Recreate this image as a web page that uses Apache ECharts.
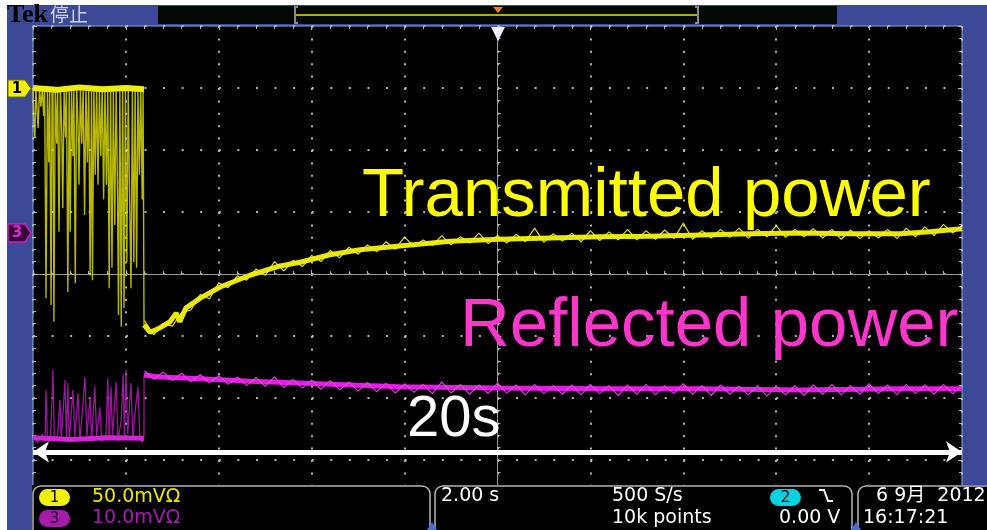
<!DOCTYPE html>
<html>
<head>
<meta charset="utf-8">
<script src="https://cdn.jsdelivr.net/npm/echarts@6/dist/echarts.min.js"></script>
<style>
  html, body { margin: 0; padding: 0; background: #fff; }
  #scope { width: 987px; height: 530px; }
</style>
</head>
<body>
<div id="scope"></div>
<script>
// time in seconds relative to trigger (2 s/div), amplitude in divisions
// CH1 (transmitted) while the RF is still pulsing: [t, div]
const yellowPre = [[-10.00,3.00],[-9.98,2.40],[-9.96,2.19],[-9.94,3.02],[-9.91,2.60],[-9.89,2.35],[-9.86,3.00],[-9.83,2.70],
  [-9.80,2.98],[-9.77,2.55],[-9.75,3.03],[-9.72,-0.39],[-9.69,2.99],[-9.66,1.80],[-9.64,3.00],[-9.61,-0.50],
  [-9.59,2.95],[-9.57,3.02],[-9.55,-0.77],[-9.52,3.00],[-9.49,2.10],[-9.47,2.98],[-9.44,0.68],[-9.41,3.01],
  [-9.38,2.30],[-9.36,1.06],[-9.33,2.97],[-9.30,2.20],[-9.28,3.00],[-9.25,-0.29],[-9.22,3.02],[-9.20,0.68],
  [-9.17,2.98],[-9.14,1.90],[-9.12,3.00],[-9.09,-0.15],[-9.06,3.03],[-9.03,2.40],[-9.01,1.44],[-8.98,2.97],
  [-8.95,2.10],[-8.92,3.00],[-8.89,0.95],[-8.86,3.01],[-8.83,1.80],[-8.80,3.00],[-8.77,-0.02],[-8.74,2.98],
  [-8.72,-0.10],[-8.69,3.02],[-8.66,1.60],[-8.63,3.00],[-8.60,1.44],[-8.57,2.99],[-8.54,1.90],[-8.51,3.02],
  [-8.48,1.20],[-8.45,3.00],[-8.42,1.44],[-8.39,2.98],[-8.36,-0.23],[-8.33,3.01],[-8.30,0.10],[-8.27,2.97],
  [-8.24,0.79],[-8.21,3.02],[-8.18,1.30],[-8.16,-0.66],[-8.13,2.99],[-8.10,-0.85],[-8.07,3.01],[-8.04,-0.55],
  [-8.01,2.97],[-7.98,0.19],[-7.95,3.02],[-7.92,1.20],[-7.89,-0.23],[-7.86,2.98],[-7.83,0.19],[-7.80,3.01],
  [-7.77,0.10],[-7.74,2.99],[-7.71,1.60],[-7.68,3.00],[-7.65,1.20],[-7.63,3.00],[-7.61,3.00],[-7.61,-0.82]]
const yellowPreTop = [[-10.00,3.00],[-9.50,2.97],[-9.00,3.01],[-8.50,2.98],[-8.00,3.00],[-7.61,2.98]]

const yellowMeanT = [-7.61,-7.48,-7.27,-7.05,-6.92,-6.84,-6.71,-6.40,-5.97,-5.33,-4.68,-4.25,-3.61,-2.96,-2.10,-1.02,0.05,1.13,2.21,3.28,4.36,5.44,6.51,7.59,8.67,9.31,10.0]
const yellowMeanV = [-0.82,-0.94,-0.87,-0.77,-0.63,-0.77,-0.55,-0.39,-0.21,-0.02,0.13,0.19,0.31,0.39,0.45,0.53,0.56,0.58,0.60,0.61,0.63,0.65,0.66,0.65,0.65,0.68,0.73]

// CH3 (reflected) while pulsing: [t, div]
const magentaPre = [[-10.00,-2.62],[-9.90,-2.72],[-9.80,-2.58],[-9.74,-2.70],[-9.72,-1.87],[-9.69,-2.66],[-9.62,-2.60],
  [-9.57,-1.55],[-9.54,-2.70],[-9.47,-2.60],[-9.42,-2.03],[-9.39,-2.68],[-9.31,-1.71],[-9.28,-2.66],[-9.25,-1.76],
  [-9.22,-2.70],[-9.14,-1.87],[-9.10,-2.62],[-9.03,-1.92],[-8.99,-2.70],[-8.88,-1.66],[-8.84,-2.62],[-8.77,-1.98],
  [-8.74,-2.71],[-8.67,-1.82],[-8.63,-2.60],[-8.56,-2.15],[-8.52,-2.70],[-8.43,-2.60],[-8.39,-1.68],[-8.36,-2.68],
  [-8.32,-1.82],[-8.29,-2.62],[-8.21,-1.74],[-8.17,-2.70],[-8.10,-2.35],[-8.06,-1.63],[-8.03,-2.66],[-8.00,-1.55],
  [-7.96,-2.58],[-7.92,-2.10],[-7.89,-1.76],[-7.85,-2.68],[-7.80,-2.20],[-7.74,-1.82],[-7.70,-2.62],[-7.65,-2.72],
  [-7.61,-2.62],[-7.61,-1.63]]
const magentaPreBase = [[-10.00,-2.64],[-9.20,-2.67],[-8.40,-2.64],[-7.61,-2.65]]

const magentaMeanT = [-7.61,-7.27,-6.40,-5.33,-4.25,-3.18,-2.10,0.05,2.21,4.36,6.51,8.67,10.0]
const magentaMeanV = [-1.63,-1.66,-1.69,-1.73,-1.76,-1.79,-1.82,-1.84,-1.85,-1.85,-1.87,-1.85,-1.85]

const noiseT = [-7.6,-7.4,-7.2,-7.0,-6.8,-6.6,-6.4,-6.2,-6.0,-5.8,-5.6,-5.4,-5.2,-5.0,-4.8,-4.6,-4.4,-4.2,-4.0,-3.8,-3.6,-3.4,-3.2,-3.0,-2.8,-2.6,-2.4,-2.2,-2.0,-1.8,-1.6,-1.4,-1.2,-1.0,-0.8,-0.6,-0.4,-0.2,0.0,0.2,0.4,0.6,0.8,1.0,1.2,1.4,1.6,1.8,2.0,2.2,2.4,2.6,2.8,3.0,3.2,3.4,3.6,3.8,4.0,4.2,4.4,4.6,4.8,5.0,5.2,5.4,5.6,5.8,6.0,6.2,6.4,6.6,6.8,7.0,7.2,7.4,7.6,7.8,8.0,8.2,8.4,8.6,8.8,9.0,9.2,9.4,9.6,9.8,10.0]
const yellowNoise = [-0.75,-0.98,-0.80,-0.84,-0.62,-0.58,-0.33,-0.40,-0.14,-0.22,
  -0.03,-0.10,0.08,-0.02,0.20,0.05,0.22,0.12,0.30,0.20,
  0.38,0.26,0.43,0.32,0.47,0.36,0.52,0.40,0.60,0.44,
  0.55,0.46,0.62,0.47,0.60,0.50,0.66,0.49,0.62,0.50,
  0.64,0.52,0.74,0.51,0.65,0.53,0.66,0.52,0.70,0.54,
  0.68,0.55,0.72,0.55,0.70,0.56,0.71,0.57,0.82,0.56,
  0.70,0.58,0.72,0.59,0.74,0.58,0.72,0.60,0.78,0.59,
  0.72,0.60,0.73,0.58,0.72,0.56,0.71,0.57,0.70,0.58,
  0.72,0.57,0.74,0.60,0.76,0.62,0.80,0.66,0.78]
const magentaNoise = [-1.56,-1.70,-1.58,-1.72,-1.60,-1.74,-1.62,-1.76,-1.64,-1.78,
  -1.66,-1.80,-1.67,-1.81,-1.66,-1.83,-1.70,-1.84,-1.71,-1.86,
  -1.72,-1.87,-1.74,-1.89,-1.75,-1.90,-1.76,-1.92,-1.77,-1.91,
  -1.78,-1.93,-1.74,-1.92,-1.78,-1.94,-1.79,-1.93,-1.76,-1.92,
  -1.79,-1.95,-1.78,-1.93,-1.80,-1.94,-1.79,-1.95,-1.78,-1.93,
  -1.80,-1.96,-1.79,-1.94,-1.78,-1.95,-1.80,-1.93,-1.77,-1.94,
  -1.80,-1.96,-1.79,-1.94,-1.81,-1.95,-1.80,-1.97,-1.81,-1.95,
  -1.80,-1.96,-1.79,-1.94,-1.78,-1.95,-1.80,-1.94,-1.77,-1.93,
  -1.79,-1.95,-1.78,-1.93,-1.79,-1.94,-1.78,-1.93,-1.80]

// span arrow (whole record length) in divisions
const spanArrowY = -2.87

function pairs(ts, vs) {
  return ts.map((t, i) => [t, vs[i]])
}

const BLUE = '#3c4a96'
const DOT = '#b4b4b4'
const CROSS = '#9c9a8c'
const sans = 'Liberation Sans, Arial, sans-serif'
const ui = 'DejaVu Sans, sans-serif'

function lineSeries(data, color, width, opacity, z) {
  return {
    type: 'line',
    data: data,
    showSymbol: false,
    symbol: 'none',
    silent: true,
    animation: false,
    z: z,
    lineStyle: { color: color, width: width, opacity: opacity },
  }
}

const chart = echarts.init(document.getElementById('scope'))

const edgeAxis = (pos, interval, max) => ({
  type: 'value', position: pos, min: -max, max: max, interval: interval,
  axisLine: { show: false, onZero: false },
  axisTick: { show: true, inside: true, length: 4, lineStyle: { color: DOT } },
  minorTick: { show: true, splitNumber: 5, length: 3, lineStyle: { color: DOT } },
  axisLabel: { show: false },
  splitLine: { show: false },
})

const yellowMean = lineSeries(pairs(yellowMeanT, yellowMeanV), '#e8e800', 5, 1, 6)
yellowMean.markLine = {
  silent: true,
  symbol: ['arrow', 'arrow'],
  symbolSize: [16, 16],
  label: { show: false },
  lineStyle: { color: '#ffffff', width: 5, type: 'solid' },
  data: [[{ coord: [-10, spanArrowY] }, { coord: [10, spanArrowY] }]],
}

chart.setOption({
  backgroundColor: BLUE,
  animation: false,
  grid: {
    left: 33, top: 26, width: 929, height: 496,
    show: true, backgroundColor: '#000', borderColor: '#86aee6', borderWidth: 1,
  },
  xAxis: [
    {
      type: 'value', min: -10, max: 10, interval: 2,
      axisLine: { onZero: true, lineStyle: { color: CROSS, width: 1 } },
      axisTick: { show: true, inside: true, length: 4, lineStyle: { color: DOT } },
      minorTick: { show: true, splitNumber: 5, length: 3, lineStyle: { color: DOT } },
      axisLabel: { show: false },
      splitLine: { show: true, lineStyle: { color: DOT, width: 2, type: [2, 10.4] } },
    },
    edgeAxis('top', 2, 10),
  ],
  yAxis: [
    {
      type: 'value', min: -4, max: 4, interval: 1,
      axisLine: { onZero: true, lineStyle: { color: CROSS, width: 1 } },
      axisTick: { show: true, inside: true, length: 4, lineStyle: { color: DOT } },
      minorTick: { show: true, splitNumber: 5, length: 3, lineStyle: { color: DOT } },
      axisLabel: { show: false },
      splitLine: { show: true, lineStyle: { color: DOT, width: 2, type: [2, 16.58] } },
    },
    edgeAxis('right', 1, 4),
    edgeAxis('left', 1, 4),
  ],
  series: [
    lineSeries(magentaPre, '#a818ac', 1.3, 0.9, 3),
    lineSeries(magentaPreBase, '#d424d4', 5, 1, 3),
    lineSeries(pairs(magentaMeanT, magentaMeanV), '#e21ee2', 5, 1, 3),
    lineSeries(pairs(noiseT, magentaNoise), '#f040f0', 1.2, 0.9, 3),
    lineSeries(yellowPre, '#d8d800', 1.4, 0.85, 5),
    lineSeries(yellowPreTop, '#eeee00', 6, 1, 5),
    yellowMean,
    lineSeries(pairs(noiseT, yellowNoise), '#f4f420', 1.2, 0.9, 6),
  ],
  graphic: { elements: [
    // white page margin
    { type: 'rect', shape: { x: 0, y: 0, width: 987, height: 5 }, style: { fill: '#fff' }, z: 100 },
    { type: 'rect', shape: { x: 0, y: 0, width: 7, height: 530 }, style: { fill: '#fff' }, z: 100 },
    // top status bar
    { type: 'text', x: 7, y: 15, style: { text: 'Tek', fill: '#000', font: 'bold 26px Liberation Serif, serif', verticalAlign: 'middle' }, z: 100 },
    { type: 'text', x: 50, y: 15, style: { text: '停止', fill: '#cdd1ee', font: '19px Noto Sans CJK SC', verticalAlign: 'middle' }, z: 100 },
    { type: 'rect', shape: { x: 158, y: 6, width: 679, height: 18 }, style: { fill: '#040804' }, z: 100 },
    { type: 'line', shape: { x1: 295, y1: 15, x2: 698, y2: 15 }, style: { stroke: '#e6e600', lineWidth: 1.5 }, z: 101 },
    { type: 'polyline', shape: { points: [[298, 7], [295, 7], [295, 23], [298, 23]] }, style: { stroke: '#8a8a8a', lineWidth: 2, fill: null }, z: 101 },
    { type: 'polyline', shape: { points: [[695, 7], [698, 7], [698, 23], [695, 23]] }, style: { stroke: '#8a8a8a', lineWidth: 2, fill: null }, z: 101 },
    { type: 'polygon', shape: { points: [[493, 7], [503, 7], [498, 13]] }, style: { fill: '#f0821e' }, z: 101 },
    // trigger position marker
    { type: 'polygon', shape: { points: [[491, 27], [505, 27], [498, 41]] }, style: { fill: '#eef0ff' }, z: 100 },
    // channel markers
    { type: 'polygon', shape: { points: [[8, 80], [25, 80], [31, 88.5], [25, 97], [8, 97]] }, style: { fill: '#f2f200', stroke: '#6a6a00', lineWidth: 1 }, z: 100 },
    { type: 'text', x: 17, y: 89, style: { text: '1', fill: '#000', font: 'bold 15px DejaVu Sans', align: 'center', verticalAlign: 'middle' }, z: 101 },
    { type: 'polygon', shape: { points: [[8, 224], [25, 224], [31, 233], [25, 242], [8, 242]] }, style: { fill: '#3a0038', stroke: '#c81ec8', lineWidth: 1.5 }, z: 100 },
    { type: 'text', x: 17, y: 233, style: { text: '3', fill: '#d22ed2', font: 'bold 15px DejaVu Sans', align: 'center', verticalAlign: 'middle' }, z: 101 },
    // annotations
    { type: 'text', x: 362, y: 231, style: { text: 'Transmitted power', fill: '#ffff00', font: '69px ' + sans, verticalAlign: 'bottom' }, z: 50 },
    { type: 'text', x: 460, y: 361, style: { text: 'Reflected power', fill: '#ff36cc', font: '69px ' + sans, verticalAlign: 'bottom' }, z: 50 },
    { type: 'text', x: 407, y: 449, style: { text: '20s', fill: '#ffffff', font: '58px ' + sans, verticalAlign: 'bottom' }, z: 50 },
    // bottom readout panel
    { type: 'rect', shape: { x: 32, y: 485, width: 955, height: 45 }, style: { fill: '#000' }, z: 100 },
    { type: 'rect', shape: { x: 33, y: 486, width: 397, height: 52, r: 8 }, style: { fill: '#000', stroke: '#b4b4b4', lineWidth: 1.5 }, z: 101 },
    { type: 'rect', shape: { x: 435, y: 486, width: 417, height: 52, r: 8 }, style: { fill: '#000', stroke: '#b4b4b4', lineWidth: 1.5 }, z: 101 },
    { type: 'rect', shape: { x: 858, y: 486, width: 150, height: 52, r: 8 }, style: { fill: '#000', stroke: '#b4b4b4', lineWidth: 1.5 }, z: 101 },
    { type: 'polygon', shape: { points: [[427, 530], [437, 530], [432, 522]] }, style: { fill: '#4a6ad0' }, z: 102 },
    { type: 'polygon', shape: { points: [[851, 530], [861, 530], [856, 522]] }, style: { fill: '#4a6ad0' }, z: 102 },
    { type: 'rect', shape: { x: 39, y: 489, width: 31, height: 17, r: 8.5 }, style: { fill: '#f2f200' }, z: 102 },
    { type: 'text', x: 54.5, y: 498, style: { text: '1', fill: '#000', font: '15px DejaVu Sans', align: 'center', verticalAlign: 'middle' }, z: 103 },
    { type: 'text', x: 92, y: 497, style: { text: '50.0mVΩ', fill: '#e8e800', font: '19px ' + ui, verticalAlign: 'middle' }, z: 103 },
    { type: 'rect', shape: { x: 39, y: 510, width: 31, height: 17, r: 8.5 }, style: { fill: '#a21ea8' }, z: 102 },
    { type: 'text', x: 54.5, y: 519, style: { text: '3', fill: '#2c002c', font: '15px DejaVu Sans', align: 'center', verticalAlign: 'middle' }, z: 103 },
    { type: 'text', x: 92, y: 518, style: { text: '10.0mVΩ', fill: '#a21eb0', font: '19px ' + ui, verticalAlign: 'middle' }, z: 103 },
    { type: 'text', x: 441, y: 496, style: { text: '2.00 s', fill: '#fff', font: '19px ' + ui, verticalAlign: 'middle' }, z: 103 },
    { type: 'text', x: 612, y: 496, style: { text: '500 S/s', fill: '#fff', font: '19px ' + ui, verticalAlign: 'middle' }, z: 103 },
    { type: 'text', x: 612, y: 518, style: { text: '10k points', fill: '#fff', font: '19px ' + ui, verticalAlign: 'middle' }, z: 103 },
    { type: 'rect', shape: { x: 770, y: 489, width: 31, height: 17, r: 8.5 }, style: { fill: '#00d2e2' }, z: 102 },
    { type: 'text', x: 785.5, y: 498, style: { text: '2', fill: '#000', font: '15px DejaVu Sans', align: 'center', verticalAlign: 'middle' }, z: 103 },
    { type: 'polyline', shape: { points: [[819, 490], [824, 490], [828, 501], [833, 501]] }, style: { stroke: '#fff', lineWidth: 2, fill: null }, z: 103 },
    { type: 'text', x: 779, y: 518, style: { text: '0.00 V', fill: '#fff', font: '19px ' + ui, verticalAlign: 'middle' }, z: 103 },
    { type: 'text', x: 876, y: 496, style: { text: '6 9月  2012', fill: '#fff', font: '19px DejaVu Sans, Noto Sans CJK SC', verticalAlign: 'middle' }, z: 103 },
    { type: 'text', x: 863, y: 518, style: { text: '16:17:21', fill: '#fff', font: '19px ' + ui, verticalAlign: 'middle' }, z: 103 },
  ] },
})
</script>
</body>
</html>
